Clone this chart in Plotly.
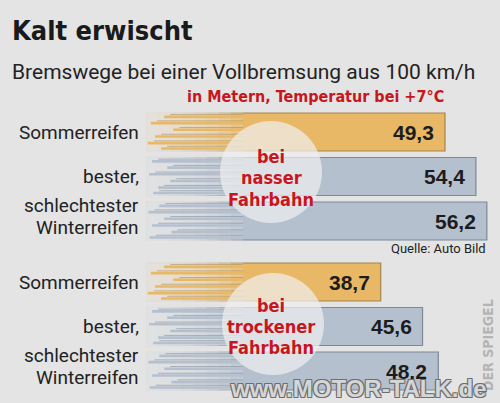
import plotly.graph_objects as go

# ---------------- data ----------------
title = "Kalt erwischt"
subtitle = "Bremswege bei einer Vollbremsung aus 100 km/h"
unit_note = "in Metern, Temperatur bei +7°C"
source = "Quelle: Auto Bild"
credit = "DER SPIEGEL"
watermark = "www.MOTOR-TALK.de"
categories = ["Sommerreifen", "bester,", "schlechtester<br>Winterreifen"]
wet_values = [49.3, 54.4, 56.2]
dry_values = [38.7, 45.6, 48.2]
wet_label = ["bei", "nasser", "Fahrbahn"]
dry_label = ["bei", "trockener", "Fahrbahn"]

# ---------------- style ----------------
W, H = 500, 403
BG = "#e4e4e4"
ORANGE = "#e8b866"
BLUE = "#b5c0cf"
ORANGE_EDGE = "#a5844a"
BLUE_EDGE = "#7d8797"
RED = "#c8161d"
COND = "DejaVu Sans Condensed, Roboto, sans-serif"
bar_colors = [ORANGE, BLUE, BLUE]
edge_colors = [ORANGE_EDGE, BLUE_EDGE, BLUE_EDGE]

def px(x):
    return x / W

def py(y):
    return 1 - y / H

X_MAX = 58.37
BARGAP = 0.146
HALF = (1 - BARGAP) / 2

fig = go.Figure()

groups = [
    (wet_values, "x", "y", wet_label),
    (dry_values, "x2", "y2", dry_label),
]

for vals, xa, ya, _ in groups:
    fig.add_trace(go.Bar(
        x=vals, y=categories, orientation="h",
        marker=dict(color=bar_colors, line=dict(color=edge_colors, width=1.2)),
        xaxis=xa, yaxis=ya, hoverinfo="skip", showlegend=False,
    ))

annotations = []
shapes = []

# value labels
for vals, xa, ya, _ in groups:
    for cat, v in zip(categories, vals):
        annotations.append(dict(
            x=v, y=cat, xref=xa, yref=ya, xanchor="right", yanchor="middle",
            xshift=-9, text=f"{v:.1f}".replace(".", ","), showarrow=False,
            font=dict(family="Liberation Sans", size=21, color="#1c1c1c", weight="bold"),
        ))

# category labels (right-aligned left of the bars)
line_shift = {1: [0], 2: [16, -6]}
for _, xa, ya, _ in groups:
    for cat in categories:
        parts = cat.split("<br>")
        for part, dy in zip(parts, line_shift[len(parts)]):
            annotations.append(dict(
                x=px(141), y=cat, xref="paper", yref=ya, xanchor="right", yanchor="middle",
                yshift=dy, text=part, showarrow=False,
                font=dict(family="Roboto", size=19, color="#222222"),
            ))

# fade + speed streaks on the left part of every bar (decoration)
streak_offsets = [-0.34, -0.20, -0.05, 0.10, 0.25, 0.37]
streak_starts = [[3.0, 0.8, 4.5, 1.5, 0.3, 2.5],
                 [1.0, 3.5, 0.5, 4.0, 2.0, 1.2],
                 [2.2, 0.4, 3.0, 1.0, 4.2, 0.6]]
for vals, xa, ya, _ in groups:
    for i in range(len(categories)):
        for k in range(1, 9):
            shapes.append(dict(
                type="rect", xref=xa, yref=ya, x0=-0.6, x1=2.0 * k, y0=i - HALF - 0.04, y1=i + HALF + 0.04,
                fillcolor=BG, opacity=0.27, line=dict(width=0), layer="above",
            ))
        for off, st in zip(streak_offsets, streak_starts[i]):
            shapes.append(dict(
                type="line", xref=xa, yref=ya, x0=st + 1.0, x1=16, y0=i + off - 0.05, y1=i + off - 0.05,
                line=dict(color=edge_colors[i], width=1), opacity=0.55, layer="above",
            ))
            shapes.append(dict(
                type="line", xref=xa, yref=ya, x0=st, x1=16, y0=i + off, y1=i + off,
                line=dict(color=bar_colors[i], width=2.6), layer="above",
            ))

# translucent circles
for cx, cy in [(271, 172), (273, 324)]:
    r = 51
    shapes.append(dict(
        type="circle", xref="paper", yref="paper",
        x0=px(cx - r), x1=px(cx + r), y0=py(cy + r), y1=py(cy - r),
        fillcolor="rgba(238,238,238,0.72)", line=dict(width=0), layer="above",
    ))

# circle texts
for lines, ys, cx in [(wet_label, [156, 177, 199], 271), (dry_label, [305, 326, 347], 271)]:
    for t, yy in zip(lines, ys):
        annotations.append(dict(
            x=px(cx), y=py(yy), xref="paper", yref="paper", xanchor="center", yanchor="middle",
            text=t, showarrow=False,
            font=dict(family=COND, size=18, color=RED, weight="bold"),
        ))

# titles and notes
annotations += [
    dict(x=px(10), y=py(30), xref="paper", yref="paper", xanchor="left", yanchor="middle",
         text=title, showarrow=False,
         font=dict(family=COND, size=27, color="#1a1a1a", weight="bold")),
    dict(x=px(10), y=py(72), xref="paper", yref="paper", xanchor="left", yanchor="middle",
         text=subtitle, showarrow=False,
         font=dict(family="Roboto", size=21, color="#222222")),
    dict(x=px(446), y=py(97), xref="paper", yref="paper", xanchor="right", yanchor="middle",
         text=unit_note, showarrow=False,
         font=dict(family=COND, size=16, color=RED, weight="bold")),
    dict(x=px(488), y=py(248), xref="paper", yref="paper", xanchor="right", yanchor="middle",
         text=source, showarrow=False,
         font=dict(family="Roboto", size=13, color="#222222")),
    dict(x=px(488), y=py(345), xref="paper", yref="paper", xanchor="center", yanchor="middle",
         text=credit, textangle=-90, showarrow=False,
         font=dict(family=COND, size=14, color="#b4b4b4", weight="bold")),
    dict(x=px(489), y=py(388), xref="paper", yref="paper", xanchor="right", yanchor="middle",
         text=watermark, showarrow=False,
         font=dict(family="Liberation Sans", size=24, color="#d6d6d6", weight="bold",
                   shadow="-1px -1px 0 #6e6e6e, 1px -1px 0 #6e6e6e, -1px 1px 0 #6e6e6e, 1px 1px 0 #6e6e6e")),
]

x_dom = [px(146), 1.0]
ax_common = dict(range=[0, X_MAX], visible=False, fixedrange=True)
y_common = dict(
    type="category", categoryorder="array", categoryarray=categories,
    range=[2.5, -0.5], showgrid=False, zeroline=False, showline=False, ticks="",
    showticklabels=False, fixedrange=True,
)

fig.update_layout(
    width=W, height=H, margin=dict(l=0, r=0, t=0, b=0),
    paper_bgcolor=BG, plot_bgcolor="rgba(0,0,0,0)",
    bargap=BARGAP, showlegend=False,
    xaxis=dict(domain=x_dom, anchor="y", **ax_common),
    xaxis2=dict(domain=x_dom, anchor="y2", **ax_common),
    yaxis=dict(domain=[py(243.25), py(109.75)], anchor="x", **y_common),
    yaxis2=dict(domain=[py(393.25), py(259.75)], anchor="x2", **y_common),
    shapes=shapes, annotations=annotations,
)

fig.write_html("out.html", config={"displayModeBar": False},
               post_script="document.body.style.margin='0';document.body.style.overflow='hidden';")
